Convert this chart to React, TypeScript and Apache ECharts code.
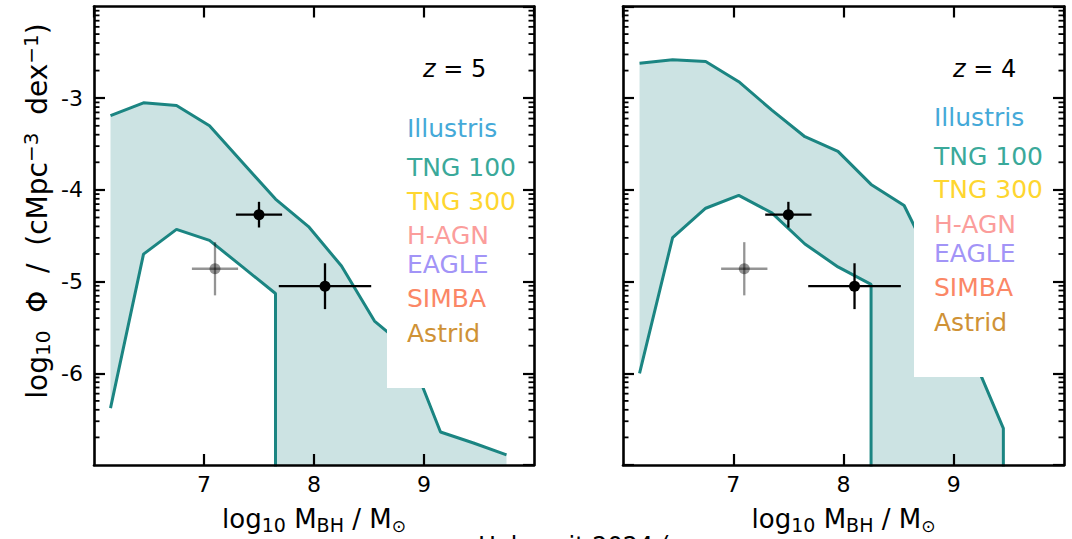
import React, { useEffect, useRef } from "react";
import * as echarts from "echarts";

// ---------------- data ----------------
const massBins = [6.15, 6.45, 6.75, 7.05, 7.35, 7.65, 7.95, 8.25, 8.55, 8.85, 9.15, 9.45, 9.75];

// z = 5 panel (TNG100 envelope)
const z5Upper = [-3.19, -3.05, -3.08, -3.3, -3.7, -4.1, -4.4, -4.83, -5.43, -5.73, -6.64, -6.76, -6.89];
const z5Lower = [-6.38, -4.7, -4.43, -4.55, -4.84, -5.13, null, null, null, null, null, null, null];

// z = 4 panel (TNG100 envelope)
const z4Upper = [-2.62, -2.58, -2.6, -2.82, -3.13, -3.42, -3.58, -3.94, -4.17, -4.9, -5.75, -6.6, null];
const z4Lower = [-6.0, -4.52, -4.2, -4.06, -4.25, -4.59, -4.84, -5.03, null, null, null, null, null];

// observational constraints (same in both panels)
const obsMass = [7.5, 8.1];
const obsPhi = [-4.27, -5.05];
const obsMassErr = [0.21, 0.42];
const obsPhiErr = [0.14, 0.25];

const faintMass = [7.1];
const faintPhi = [-4.86];
const faintMassErr = [0.21];
const faintPhiErr = [0.29];

const panelRedshifts = ["5", "4"];
const simNames = ["Illustris", "TNG 100", "TNG 300", "H-AGN", "EAGLE", "SIMBA", "Astrid"];
const simColors = ["#45a9d8", "#3aa99a", "#fed630", "#fb9d9b", "#a294f7", "#fb8766", "#cf9236"];

const minorMultipliers = [2, 3, 4, 5, 6, 7, 8, 9];
const decades = [-7, -6, -5, -4, -3];

// ---------------- layout / style ----------------
const FONT = "DejaVu Sans";
const X_MIN = 6, X_MAX = 10, Y_MIN = -7, Y_MAX = -2;
const DROP_Y = -9;
const LINE_COLOR = "#1b8582";
const BAND_FILL = "#cce3e3";

const GRIDS = [
  { left: 94, top: 6.5, width: 440, height: 461 },
  { left: 623, top: 6.5, width: 441, height: 461 },
];
const LEGENDS = [
  { boxX: 387, boxY: 40, boxW: 135, boxH: 348, textX: 407, zX: 423, zY: 69, ys: [128, 167, 201, 235, 264, 298, 333] },
  { boxX: 914, boxY: 40, boxW: 138, boxH: 337, textX: 934, zX: 953, zY: 69, ys: [117.5, 156, 189.5, 224, 253, 287.5, 322.5] },
];

function toLine(xs: number[], ys: (number | null)[]) {
  const out: number[][] = [];
  for (let i = 0; i < xs.length; i++) {
    const v = ys[i];
    if (v == null) {
      if (out.length) out.push([xs[i - 1], DROP_Y]);
      break;
    }
    out.push([xs[i], v]);
  }
  return out;
}

function lastValid(ys: (number | null)[]) {
  let k = -1;
  ys.forEach((v, i) => {
    if (v != null) k = i;
  });
  return k;
}

function bandSeries(p: number, up: (number | null)[], lo: (number | null)[]) {
  return {
    type: "custom",
    xAxisIndex: 2 * p,
    yAxisIndex: 2 * p,
    z: 1,
    silent: true,
    data: [[X_MIN, Y_MIN]],
    renderItem: (_params: any, api: any) => {
      const pts: number[][] = [];
      const lu = lastValid(up);
      const ll = lastValid(lo);
      for (let i = 0; i <= lu; i++) pts.push(api.coord([massBins[i], Math.max(up[i] as number, Y_MIN)]));
      pts.push(api.coord([massBins[lu], Y_MIN]));
      pts.push(api.coord([massBins[ll], Y_MIN]));
      for (let i = ll; i >= 0; i--) pts.push(api.coord([massBins[i], Math.max(lo[i] as number, Y_MIN)]));
      return { type: "polygon", shape: { points: pts }, style: { fill: BAND_FILL, stroke: "none" } };
    },
  };
}

function lineSeries(p: number, xs: number[], ys: (number | null)[]) {
  return {
    type: "line",
    xAxisIndex: 2 * p,
    yAxisIndex: 2 * p,
    z: 3,
    silent: true,
    showSymbol: false,
    symbol: "none",
    clip: true,
    data: toLine(xs, ys),
    lineStyle: { color: LINE_COLOR, width: 3 },
  };
}

function errorSeries(p: number, m: number[], f: number[], me: number[], fe: number[], color: string, opacity: number) {
  return {
    type: "custom",
    xAxisIndex: 2 * p,
    yAxisIndex: 2 * p,
    z: 4,
    silent: true,
    data: m.map((v, i) => [v, f[i], me[i], fe[i]]),
    renderItem: (_params: any, api: any) => {
      const x = api.value(0), y = api.value(1), xe = api.value(2), ye = api.value(3);
      const c = api.coord([x, y]);
      const l = api.coord([x - xe, y]);
      const r = api.coord([x + xe, y]);
      const t = api.coord([x, y + ye]);
      const b = api.coord([x, y - ye]);
      const st = { stroke: color, lineWidth: 2.3, opacity };
      return {
        type: "group",
        children: [
          { type: "line", shape: { x1: l[0], y1: l[1], x2: r[0], y2: r[1] }, style: st },
          { type: "line", shape: { x1: t[0], y1: t[1], x2: b[0], y2: b[1] }, style: st },
          { type: "circle", shape: { cx: c[0], cy: c[1], r: 5.5 }, style: { fill: color, opacity } },
        ],
      };
    },
  };
}

function minorTickSeries(p: number) {
  const vals: number[][] = [];
  decades.forEach((d) => minorMultipliers.forEach((k) => vals.push([X_MIN, d + Math.log10(k)])));
  return {
    type: "custom",
    xAxisIndex: 2 * p,
    yAxisIndex: 2 * p,
    z: 10,
    silent: true,
    data: vals,
    renderItem: (_params: any, api: any) => {
      const y = api.value(1);
      const a = api.coord([X_MIN, y]);
      const b = api.coord([X_MAX, y]);
      const st = { stroke: "#000", lineWidth: 1.8 };
      return {
        type: "group",
        children: [
          { type: "line", shape: { x1: a[0], y1: a[1], x2: a[0] + 5.5, y2: a[1] }, style: st },
          { type: "line", shape: { x1: b[0], y1: b[1], x2: b[0] - 5.5, y2: b[1] }, style: st },
        ],
      };
    },
  };
}

const axisLine = { show: true, onZero: false, lineStyle: { color: "#000", width: 2.6 } };
const majorTick = { show: true, inside: true, length: 11, lineStyle: { color: "#000", width: 2.2 } };

function buildOption() {
  const xAxis: any[] = [];
  const yAxis: any[] = [];
  GRIDS.forEach((_g, p) => {
    xAxis.push({
      gridIndex: p,
      type: "value",
      position: "bottom",
      min: X_MIN,
      max: X_MAX,
      interval: 1,
      z: 10,
      axisLine,
      axisTick: majorTick,
      splitLine: { show: false },
      axisLabel: { fontSize: 22, color: "#000", fontFamily: FONT, margin: 8, showMinLabel: false, showMaxLabel: false },
      name: "{m|log}{s|10}{m| M}{s|BH}{m| / M}{o|⊙}",
      nameLocation: "middle",
      nameGap: 39,
      nameTextStyle: {
        color: "#000",
        fontFamily: FONT,
        fontSize: 26,
        rich: {
          m: { fontSize: 26, lineHeight: 30, fontFamily: FONT, color: "#000" },
          s: { fontSize: 19, lineHeight: 19, verticalAlign: "bottom", fontFamily: FONT, color: "#000" },
          o: { fontSize: 17, lineHeight: 19, verticalAlign: "bottom", fontFamily: FONT, color: "#000" },
        },
      },
    });
    xAxis.push({
      gridIndex: p,
      type: "value",
      position: "top",
      min: X_MIN,
      max: X_MAX,
      interval: 1,
      z: 10,
      axisLine,
      axisTick: majorTick,
      splitLine: { show: false },
      axisLabel: { show: false },
    });
    yAxis.push({
      gridIndex: p,
      type: "value",
      position: "left",
      min: Y_MIN,
      max: Y_MAX,
      interval: 1,
      z: 10,
      axisLine,
      axisTick: majorTick,
      splitLine: { show: false },
      axisLabel: {
        show: p === 0,
        fontSize: 22,
        color: "#000",
        fontFamily: FONT,
        margin: 11,
        showMinLabel: false,
        showMaxLabel: false,
      },
    });
    yAxis.push({
      gridIndex: p,
      type: "value",
      position: "right",
      min: Y_MIN,
      max: Y_MAX,
      interval: 1,
      z: 10,
      axisLine,
      axisTick: majorTick,
      splitLine: { show: false },
      axisLabel: { show: false },
    });
  });

  const series: any[] = [];
  const uppers = [z5Upper, z4Upper];
  const lowers = [z5Lower, z4Lower];
  GRIDS.forEach((_g, p) => {
    series.push(bandSeries(p, uppers[p], lowers[p]));
    series.push(lineSeries(p, massBins, uppers[p]));
    series.push(lineSeries(p, massBins, lowers[p]));
    series.push(errorSeries(p, faintMass, faintPhi, faintMassErr, faintPhiErr, "#000", 0.42));
    series.push(errorSeries(p, obsMass, obsPhi, obsMassErr, obsPhiErr, "#000", 1));
    series.push(minorTickSeries(p));
  });

  const graphic: any[] = [];
  LEGENDS.forEach((L, p) => {
    graphic.push({
      type: "rect",
      z: 5,
      silent: true,
      shape: { x: L.boxX, y: L.boxY, width: L.boxW, height: L.boxH },
      style: { fill: "#fff", stroke: "none" },
    });
    graphic.push({
      type: "text",
      z: 12,
      x: L.zX,
      y: L.zY,
      style: {
        text: "{i|z} = " + panelRedshifts[p],
        fill: "#000",
        fontFamily: FONT,
        fontSize: 24,
        align: "left",
        verticalAlign: "middle",
        rich: {
          i: { fontStyle: "italic", fontFamily: FONT, fontSize: 24, fill: "#000" },
        },
      },
    });
    simNames.forEach((n, i) => {
      graphic.push({
        type: "text",
        z: 12,
        x: L.textX,
        y: L.ys[i],
        style: {
          text: n,
          fill: simColors[i],
          fontFamily: FONT,
          fontSize: 25,
          align: "left",
          verticalAlign: "middle",
        },
      });
    });
  });

  graphic.push({
    type: "text",
    z: 12,
    x: 37,
    y: 211,
    rotation: Math.PI / 2,
    style: {
      text: "{m|log}{s|10}{m|  Φ  /  (cMpc}{p|−3}{m|  dex}{p|−1}{m|)}",
      fill: "#000",
      fontFamily: FONT,
      fontSize: 28,
      align: "center",
      verticalAlign: "middle",
      rich: {
        m: { fontSize: 28, lineHeight: 32, fontFamily: FONT, fill: "#000" },
        s: { fontSize: 20, lineHeight: 20, verticalAlign: "bottom", fontFamily: FONT, fill: "#000" },
        p: { fontSize: 20, lineHeight: 20, verticalAlign: "top", fontFamily: FONT, fill: "#000" },
      },
    },
  });

  graphic.push({
    type: "text",
    z: 12,
    x: 478,
    y: 546,
    style: {
      text: "Habouzit 2024 (",
      fill: "#000",
      fontFamily: FONT,
      fontSize: 24,
      align: "left",
      verticalAlign: "middle",
    },
  });

  return {
    animation: false,
    backgroundColor: "#fff",
    grid: GRIDS.map((g) => ({ ...g, show: false })),
    xAxis,
    yAxis,
    series,
    graphic,
  };
}

export default function App() {
  const ref = useRef<HTMLDivElement>(null);
  useEffect(() => {
    const chart = echarts.init(ref.current as HTMLDivElement, null, { renderer: "svg" });
    chart.setOption(buildOption() as any);
    return () => chart.dispose();
  }, []);
  return (
    <div
      ref={ref}
      style={{ position: "fixed", left: 0, top: 0, width: 1072, height: 539, background: "#fff" }}
    />
  );
}
